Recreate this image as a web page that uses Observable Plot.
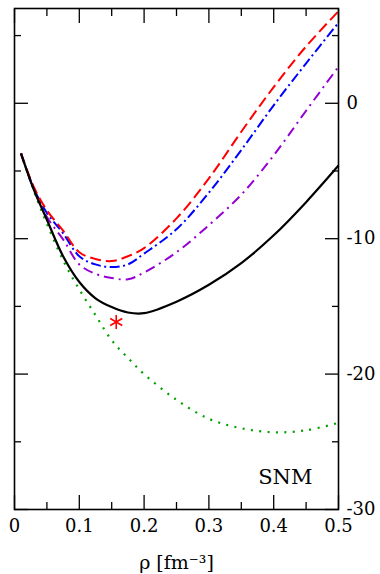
<!DOCTYPE html>
<html>
<head>
<meta charset="utf-8">
<script src="https://cdn.jsdelivr.net/npm/d3@7"></script>
<script src="https://cdn.jsdelivr.net/npm/@observablehq/plot@0.6"></script>
<style>
  html, body { margin: 0; padding: 0; background: #fff; }
  #chart { width: 380px; height: 574px; }
</style>
</head>
<body>
<div id="chart"></div>
<script>
// density grid (fm^-3)
const rho = [0.01, 0.03, 0.05, 0.075, 0.1, 0.125, 0.15, 0.175, 0.2, 0.25, 0.3, 0.35, 0.4, 0.45, 0.5];
// energy per nucleon (MeV) for each curve
const eBlack  = [-3.7, -6.4, -8.6, -11.3, -13.2, -14.4, -15.05, -15.45, -15.5, -14.65, -13.4, -11.8, -9.75, -7.3, -4.6];
const eGreen  = [-3.7, -6.5, -8.9, -11.6, -13.75, -15.65, -17.5, -18.8, -20.0, -21.9, -23.3, -24.0, -24.3, -24.15, -23.6];
const eRed    = [-3.7, -6.2, -7.9, -9.4, -11.0, -11.5, -11.65, -11.3, -10.7, -8.5, -5.55, -2.1, 1.2, 4.2, 6.8];
const eBlue   = [-3.7, -6.3, -8.1, -9.6, -11.3, -11.9, -12.1, -11.9, -11.1, -9.3, -6.6, -3.45, -0.15, 2.95, 5.95];
const ePurple = [-3.7, -6.4, -8.4, -10.05, -11.9, -12.6, -12.9, -13.0, -12.5, -11.0, -9.0, -6.75, -3.85, -0.55, 2.7];
// empirical saturation point
const satRho = [0.157];
const satE = [-16.15];
// ticks
const xMajor = [0, 0.1, 0.2, 0.3, 0.4, 0.5];
const xMinor = [0.05, 0.15, 0.25, 0.35, 0.45];
const yMajor = [-30, -20, -10, 0];
const yMinor = [-25, -15, -5, 5];
const xLabels = ["0", "0.1", "0.2", "0.3", "0.4", "0.5"];
const yLabels = ["-30", "-20", "-10", "0"];

const mk = (e) => rho.map((r, i) => ({x: r, y: e[i]}));
const series = [
  {data: mk(eGreen),  stroke: "#00a000", dash: "2 6.4", width: 2.2},
  {data: mk(ePurple), stroke: "#9400d3", dash: "10 5 2 5", width: 2},
  {data: mk(eBlue),   stroke: "#0000ff", dash: "10 3.5 2 3.5", width: 2},
  {data: mk(eRed),    stroke: "#ff0000", dash: "11 5", width: 2},
  {data: mk(eBlack),  stroke: "#000000", dash: null, width: 2.2}
];

const FONT = "DejaVu Serif";

const chart = Plot.plot({
  width: 380,
  height: 574,
  marginLeft: 14,
  marginRight: 42,
  marginTop: 8,
  marginBottom: 65,
  style: {fontSize: "18px", fontFamily: FONT, background: "#fff", color: "#000"},
  x: {domain: [0, 0.5], axis: null},
  y: {domain: [-30, 7], axis: null},
  marks: [
    ...series.map(s => Plot.line(s.data, {
      x: "x", y: "y", curve: "catmull-rom",
      stroke: s.stroke, strokeWidth: s.width,
      strokeDasharray: s.dash, strokeLinecap: "butt"
    })),
    Plot.dot(satRho.map((r, i) => ({x: r, y: satE[i]})), {
      x: "x", y: "y", symbol: "asterisk", r: 6.6, stroke: "#ff0000", strokeWidth: 1.6
    }),
    Plot.text(["SNM"], {frameAnchor: "bottom-right", textAnchor: "end", lineAnchor: "bottom", dx: -26, dy: -26, fontSize: 21, fontFamily: FONT}),
    Plot.text(["ρ [fm⁻³]"], {frameAnchor: "bottom", lineAnchor: "bottom", dy: 59, fontSize: 19, fontFamily: FONT}),
    // inward ticks, bottom & top
    Plot.axisX({anchor: "bottom", ticks: xMajor, tickSize: -14, tickFormat: () => "", strokeWidth: 1.3, label: null}),
    Plot.axisX({anchor: "bottom", ticks: xMinor, tickSize: -7, tickFormat: () => "", strokeWidth: 1.3, label: null}),
    Plot.axisX({anchor: "top", ticks: xMajor, tickSize: -14, tickFormat: () => "", strokeWidth: 1.3, label: null}),
    Plot.axisX({anchor: "top", ticks: xMinor, tickSize: -7, tickFormat: () => "", strokeWidth: 1.3, label: null}),
    // inward ticks, left & right
    Plot.axisY({anchor: "left", ticks: yMajor, tickSize: -14, tickFormat: () => "", strokeWidth: 1.3, label: null}),
    Plot.axisY({anchor: "left", ticks: yMinor, tickSize: -7, tickFormat: () => "", strokeWidth: 1.3, label: null}),
    Plot.axisY({anchor: "right", ticks: yMajor, tickSize: -14, tickFormat: () => "", strokeWidth: 1.3, label: null}),
    Plot.axisY({anchor: "right", ticks: yMinor, tickSize: -7, tickFormat: () => "", strokeWidth: 1.3, label: null}),
    // tick labels
    Plot.axisX({anchor: "bottom", ticks: xMajor, tickSize: 0, tickPadding: 10, fontFamily: FONT, fontSize: 18, tickFormat: (d) => xLabels[xMajor.indexOf(d)], label: null}),
    Plot.axisY({anchor: "right", ticks: yMajor, tickSize: 0, tickPadding: 8, fontFamily: FONT, fontSize: 18, textAnchor: "start", tickFormat: (d) => yLabels[yMajor.indexOf(d)], label: null}),
    Plot.frame({stroke: "#000", strokeWidth: 1.6})
  ]
});
document.getElementById("chart").appendChild(chart);
</script>
</body>
</html>
